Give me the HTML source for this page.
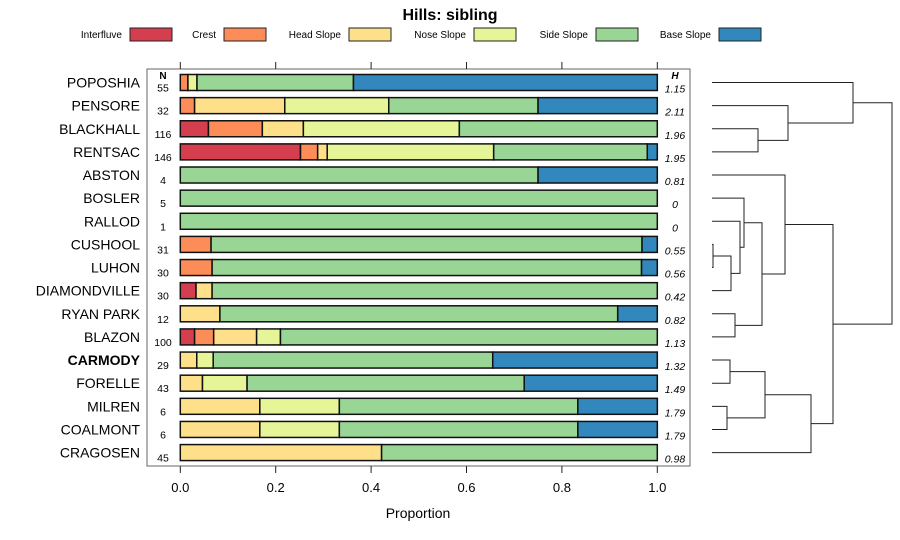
<!DOCTYPE html>
<html><head><meta charset="utf-8"><style>
html,body{margin:0;padding:0;background:#fff;}
svg{display:block;font-family:"Liberation Sans",sans-serif;}
</style></head><body>
<svg id="chart" width="900" height="540" viewBox="0 0 900 540">
<text x="450" y="20" text-anchor="middle" font-size="16" font-weight="bold">Hills: sibling</text>
<g id="legend"></g>
<rect x="147" y="69" width="543" height="397" fill="none" stroke="#666" stroke-width="1"/>
<g id="axis"></g>
<g id="bars"></g>
<g id="labels"></g>
<g id="dendro"></g>
<text x="163" y="79" text-anchor="middle" font-size="10" font-weight="bold">N</text>
<text x="675" y="79" text-anchor="middle" font-size="10" font-weight="bold" font-style="italic">H</text>
<text x="418" y="518" text-anchor="middle" font-size="14">Proportion</text>
</svg>
<script>
const categories = ["Interfluve","Crest","Head Slope","Nose Slope","Side Slope","Base Slope"];
const colors = ["#D53E4F","#FC8D59","#FEE08B","#E6F598","#99D594","#3288BD"];
const series = ["POPOSHIA","PENSORE","BLACKHALL","RENTSAC","ABSTON","BOSLER","RALLOD","CUSHOOL","LUHON","DIAMONDVILLE","RYAN PARK","BLAZON","CARMODY","FORELLE","MILREN","COALMONT","CRAGOSEN"];
const interfluve = [0,0,0.059,0.252,0,0,0,0,0,0.033,0,0.03,0,0,0,0,0];
const crest      = [0.016,0.030,0.113,0.036,0,0,0,0.0645,0.0667,0,0,0.04,0,0,0,0,0];
const headSlope  = [0,0.189,0.086,0.020,0,0,0,0,0,0.0337,0.083,0.09,0.0345,0.0465,0.1667,0.1667,0.422];
const noseSlope  = [0.019,0.218,0.327,0.349,0,0,0,0,0,0,0,0.05,0.0345,0.0935,0.1667,0.1667,0];
const sideSlope  = [0.328,0.313,0.415,0.322,0.75,1,1,0.9035,0.9003,0.9333,0.834,0.79,0.586,0.581,0.5,0.5,0.578];
const baseSlope  = [0.637,0.250,0,0.021,0.25,0,0,0.032,0.033,0,0.083,0,0.345,0.279,0.1667,0.1667,0];
const nValues = [55,32,116,146,4,5,1,31,30,30,12,100,29,43,6,6,45];
const hValues = ["1.15","2.11","1.96","1.95","0.81","0","0","0.55","0.56","0.42","0.82","1.13","1.32","1.49","1.79","1.79","0.98"];
const ticks = [0,0.2,0.4,0.6,0.8,1.0];
const tickLabels = ["0.0","0.2","0.4","0.6","0.8","1.0"];
// dendrogram merges: [leftNode, rightNode, height]; leaves are 0..16, merges are 17+
const merges = [
 [7,8,1],[2,3,46],[12,13,18],[14,15,15],[10,11,23],[17,9,19],[6,22,28],[5,23,32],
 [1,18,76],[19,20,53],[26,16,99],[0,25,141],[24,21,50],[4,29,73],[30,27,121],[28,31,180]
];
const NS="http://www.w3.org/2000/svg";
const svg=document.getElementById('chart');
const x=v=>180.3+v*477;
const y=i=>82.5+i*23.13;
function mk(tag,attrs,parent){const e=document.createElementNS(NS,tag);for(const k in attrs)e.setAttribute(k,attrs[k]);parent.appendChild(e);return e;}
// legend
const lg=document.getElementById('legend');
const lx=[130,224,349,474,596,719];
categories.forEach((c,i)=>{
 const t=mk('text',{x:lx[i]-8,y:38,'text-anchor':'end','font-size':10},lg);t.textContent=c;
 
 
 const r=mk('rect',{x:lx[i],y:28,width:42,height:13,fill:colors[i],stroke:'#222','stroke-width':1},lg);
 
 
});
// axis
const ax=document.getElementById('axis');
ticks.forEach((t,i)=>{
 mk('line',{x1:x(t),x2:x(t),y1:466,y2:473,stroke:'#222'},ax);
 mk('line',{x1:x(t),x2:x(t),y1:62,y2:69,stroke:'#222'},ax);
 const tx=mk('text',{x:x(t),y:492,'text-anchor':'middle','font-size':13},ax);tx.textContent=tickLabels[i];
 
 
});
// bars
const bg=document.getElementById('bars');
const lab=document.getElementById('labels');
const allS=[interfluve,crest,headSlope,noseSlope,sideSlope,baseSlope];
series.forEach((s,i)=>{
 let cum=0;
 allS.forEach((arr,k)=>{
  const v=arr[i]; if(v<=0) return;
  const r=mk('rect',{x:x(cum),y:y(i)-8,width:x(cum+v)-x(cum),height:16,fill:colors[k],stroke:'#111','stroke-width':1.5},bg);
  
  
  cum+=v;
 });
 const t=mk('text',{x:140,y:y(i)+5,'text-anchor':'end','font-size':14,'font-weight':s==='CARMODY'?'bold':'normal'},lab);t.textContent=s;
 
 
 const n=mk('text',{x:163,y:y(i)+9,'text-anchor':'middle','font-size':10.5},lab);n.textContent=nValues[i];
 
 
 const h=mk('text',{x:675,y:y(i)+10,'text-anchor':'middle','font-size':10.5,'font-style':'italic'},lab);h.textContent=hValues[i];
 
 
});
// dendrogram
const dg=document.getElementById('dendro');
const dx=h=>712+h;
const node=[];
series.forEach((s,i)=>node.push({y:y(i),h:0}));
merges.forEach(m=>{
 const a=node[m[0]],b=node[m[1]],h=m[2];
 const p=mk('path',{d:`M${dx(a.h)},${a.y}H${dx(h)}V${b.y}H${dx(b.h)}`,fill:'none',stroke:'#222','stroke-width':1},dg);
 
 
 node.push({y:(a.y+b.y)/2,h:h});
});
</script>
</body></html>
